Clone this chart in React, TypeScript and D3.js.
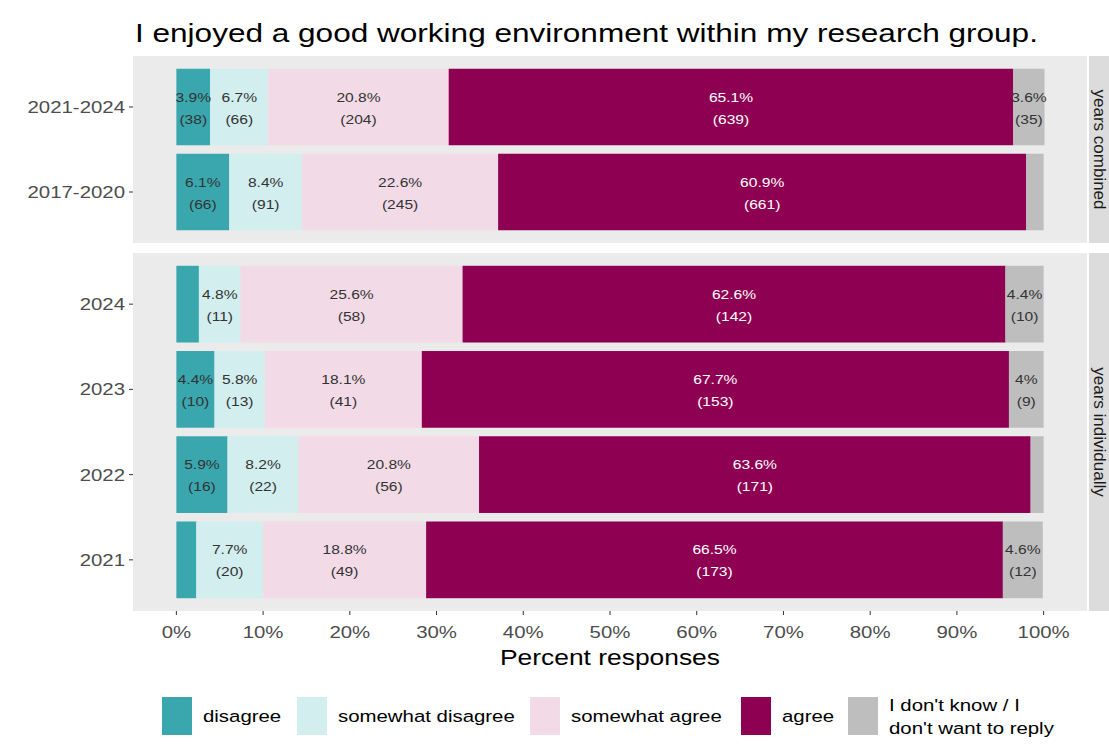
import React from "react";
import * as d3 from "d3";

const title = "I enjoyed a good working environment within my research group.";
const facets = ["years combined", "years individually"];
const categories = ["2021-2024", "2017-2020", "2024", "2023", "2022", "2021"];
const facetOf = ["years combined", "years combined", "years individually", "years individually", "years individually", "years individually"];
const responses = ["disagree", "somewhat disagree", "somewhat agree", "agree", "dk"];
const legendLabels = [["disagree"], ["somewhat disagree"], ["somewhat agree"], ["agree"], ["I don't know / I", "don't want to reply"]];
const colors = ["#3aa6ae", "#d2eeee", "#f2dbe6", "#8e0152", "#bebebe"];

const disagreePct = [3.9, 6.1, 2.6, 4.4, 5.9, 2.3];
const disagreeN = [38, 66, 6, 10, 16, 6];
const somewhatDisagreePct = [6.7, 8.4, 4.8, 5.8, 8.2, 7.7];
const somewhatDisagreeN = [66, 91, 11, 13, 22, 20];
const somewhatAgreePct = [20.8, 22.6, 25.6, 18.1, 20.8, 18.8];
const somewhatAgreeN = [204, 245, 58, 41, 56, 49];
const agreePct = [65.1, 60.9, 62.6, 67.7, 63.6, 66.5];
const agreeN = [639, 661, 142, 153, 171, 173];
const dkPct = [3.6, 2.0, 4.4, 4.0, 1.5, 4.6];
const dkN = [35, 22, 10, 9, 4, 12];

const xTicks = [0, 10, 20, 30, 40, 50, 60, 70, 80, 90, 100];

const pctSeries = [disagreePct, somewhatDisagreePct, somewhatAgreePct, agreePct, dkPct];
const nSeries = [disagreeN, somewhatDisagreeN, somewhatAgreeN, agreeN, dkN];

const SX = 1.2;
const FONT = "'Liberation Sans', Arial, Helvetica, sans-serif";

function T({ x, y, size, anchor = "start", fill = "#000", children, rotate = 0, sx = SX, baseline = "central" }: any) {
  return (
    <text
      transform={`translate(${x},${y}) scale(${sx},1)${rotate ? ` rotate(${rotate})` : ""}`}
      fontSize={size}
      textAnchor={anchor}
      dominantBaseline={baseline}
      fill={fill}
      fontFamily={FONT}
    >
      {children}
    </text>
  );
}

export default function App() {
  const W = 1109, H = 744;
  const panelLeft = 133, panelRight = 1087;
  const x = d3.scaleLinear().domain([-5, 105]).range([panelLeft, panelRight]);
  const panelRanges: Record<string, [number, number]> = {
    "years combined": [56, 243],
    "years individually": [253, 611],
  };

  const rows = categories.map((c, i) => {
    const obj: any = { category: c, facet: facetOf[i] };
    responses.forEach((r, k) => { obj[r] = pctSeries[k][i]; obj[r + "_n"] = nSeries[k][i]; });
    return obj;
  });
  const stacked = d3.stack().keys(responses)(rows as any);

  const yScales: Record<string, d3.ScaleBand<string>> = {};
  facets.forEach((f) => {
    const cats = categories.filter((_, i) => facetOf[i] === f);
    yScales[f] = d3.scaleBand().domain(cats).range(panelRanges[f]).paddingInner(0.1).paddingOuter(0.15);
  });

  const fmt = (p: number) => `${+p.toFixed(1)}%`;

  const legendX = [162, 297, 530, 741, 848];
  const keyW = 30, keyTop = 697, keyH = 38;

  return (
    <svg width={W} height={H} style={{ position: "absolute", left: 0, top: 0, background: "#fff" }}>
      <rect x={0} y={0} width={W} height={H} fill="#fff" />
      <T x={135} y={33} size={26.3}>{title}</T>

      {facets.map((f) => {
        const [t, b] = panelRanges[f];
        return (
          <g key={f}>
            <rect x={panelLeft} y={t} width={panelRight - panelLeft} height={b - t} fill="#ebebeb" />
            <rect x={panelRight + 2} y={t} width={30} height={b - t} fill="#dcdcdc" />
            <T x={1099} y={(t + b) / 2} size={17} sx={1} anchor="middle" fill="#1a1a1a" rotate={90}>{f}</T>
          </g>
        );
      })}

      {stacked.map((layer, k) => (
        <g key={responses[k]}>
          {layer.map((d: any, i: number) => {
            const row = rows[i];
            const y = yScales[row.facet];
            return (
              <rect
                key={row.category}
                x={x(d[0])}
                y={y(row.category)}
                width={x(d[1]) - x(d[0])}
                height={y.bandwidth()}
                fill={colors[k]}
              />
            );
          })}
        </g>
      ))}

      {stacked.map((layer, k) => (
        <g key={"lab" + responses[k]}>
          {layer.map((d: any, i: number) => {
            const row = rows[i];
            const p = row[responses[k]];
            if (p < 3) return null;
            const y = yScales[row.facet];
            const cy = (y(row.category) as number) + y.bandwidth() / 2;
            const cx = (x(d[0]) + x(d[1])) / 2;
            const fill = k === 3 ? "#ffffff" : "#333333";
            return (
              <g key={row.category}>
                <T x={cx} y={cy - 10} size={13} anchor="middle" fill={fill}>{fmt(p)}</T>
                <T x={cx} y={cy + 12} size={13} anchor="middle" fill={fill}>{`(${row[responses[k] + "_n"]})`}</T>
              </g>
            );
          })}
        </g>
      ))}

      {rows.map((row) => {
        const y = yScales[row.facet];
        const cy = (y(row.category) as number) + y.bandwidth() / 2;
        return (
          <g key={"yt" + row.category}>
            <line x1={panelLeft - 4} x2={panelLeft} y1={cy} y2={cy} stroke="#333" strokeWidth={1} />
            <T x={panelLeft - 8} y={cy} size={17} anchor="end" fill="#4d4d4d">{row.category}</T>
          </g>
        );
      })}

      {xTicks.map((t) => (
        <g key={"xt" + t}>
          <line x1={x(t)} x2={x(t)} y1={611} y2={615} stroke="#333" strokeWidth={1} />
          <T x={x(t)} y={632} size={17} anchor="middle" fill="#4d4d4d">{`${t}%`}</T>
        </g>
      ))}
      <T x={(panelLeft + panelRight) / 2} y={657} size={22} anchor="middle">Percent responses</T>

      {legendLabels.map((lab, k) => (
        <g key={"lg" + k}>
          <rect x={legendX[k]} y={keyTop} width={keyW} height={keyH} fill={colors[k]} />
          {lab.length === 1 ? (
            <T x={legendX[k] + keyW + 11} y={keyTop + keyH / 2} size={17}>{lab[0]}</T>
          ) : (
            <g>
              <T x={legendX[k] + keyW + 11} y={keyTop + 8} size={17}>{lab[0]}</T>
              <T x={legendX[k] + keyW + 11} y={keyTop + 31} size={17}>{lab[1]}</T>
            </g>
          )}
        </g>
      ))}
    </svg>
  );
}
